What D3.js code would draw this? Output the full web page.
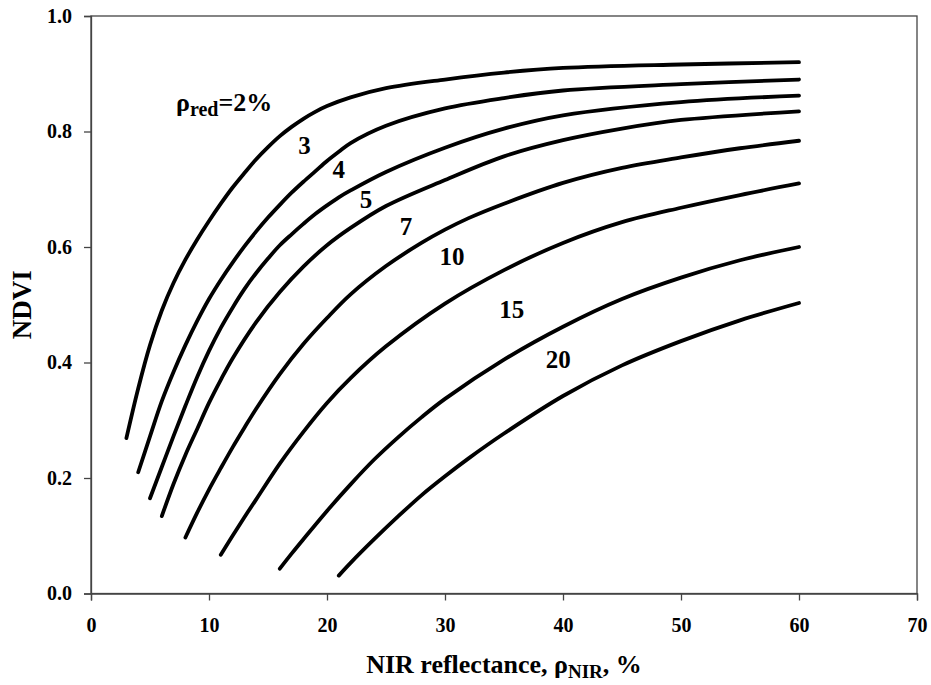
<!DOCTYPE html>
<html>
<head>
<meta charset="utf-8">
<script src="https://cdn.jsdelivr.net/npm/d3@7/dist/d3.min.js"></script>
<style>
  html, body { margin: 0; padding: 0; background: #fff; }
  svg text { font-family: "Liberation Serif", Tinos, "Nimbus Roman", "Times New Roman", "DejaVu Serif", serif !important; font-weight: bold; fill: #000; }
</style>
</head>
<body>
<svg id="chart" width="931" height="685"></svg>
<script>
// ---- data ----
const xTicks = [0, 10, 20, 30, 40, 50, 60, 70];
const yTicks = [0.0, 0.2, 0.4, 0.6, 0.8, 1.0];

// [NIR reflectance %, NDVI] pairs, one array per red reflectance
const red2 = [[3,0.269],[4,0.355],[5,0.43],[6,0.49],[7,0.538],[8,0.578],[9,0.613],[10,0.645],[11,0.675],[12,0.703],[13,0.728],[14,0.752],[15,0.773],[16,0.792],[17,0.808],[18,0.822],[19,0.834],[20,0.844],[22,0.859],[25,0.875],[30,0.89],[35,0.902],[40,0.91],[50,0.916],[60,0.92]];
const red3 = [[4,0.21],[5,0.272],[6,0.333],[7,0.384],[8,0.43],[9,0.472],[10,0.51],[11,0.543],[12,0.573],[13,0.601],[14,0.627],[15,0.651],[16,0.673],[17,0.694],[18,0.713],[19,0.731],[20,0.749],[21,0.765],[22,0.78],[25,0.81],[30,0.84],[35,0.858],[40,0.871],[50,0.882],[60,0.89]];
const red4 = [[5,0.165],[6,0.219],[7,0.273],[8,0.325],[9,0.375],[10,0.42],[11,0.46],[12,0.495],[13,0.527],[14,0.555],[15,0.58],[16,0.603],[17,0.622],[18,0.64],[19,0.657],[20,0.672],[21,0.686],[22,0.698],[25,0.73],[30,0.772],[35,0.805],[40,0.828],[50,0.851],[60,0.862]];
const red5 = [[6,0.134],[7,0.19],[8,0.24],[9,0.285],[10,0.33],[11,0.37],[12,0.407],[14,0.47],[16,0.522],[18,0.566],[20,0.603],[22,0.633],[25,0.671],[30,0.716],[35,0.757],[40,0.785],[45,0.805],[50,0.82],[60,0.835]];
const red7 = [[8,0.097],[9,0.14],[10,0.18],[11,0.217],[12,0.253],[13,0.287],[14,0.32],[16,0.38],[18,0.432],[20,0.477],[22,0.518],[25,0.567],[28,0.607],[30,0.63],[32,0.65],[35,0.675],[40,0.711],[45,0.737],[50,0.755],[55,0.771],[60,0.784]];
const red10 = [[11,0.067],[12,0.1],[13,0.132],[14,0.163],[16,0.225],[18,0.28],[20,0.33],[22,0.373],[25,0.428],[30,0.502],[35,0.56],[40,0.607],[45,0.643],[50,0.668],[55,0.69],[60,0.71]];
const red15 = [[16,0.043],[17,0.069],[18,0.094],[20,0.143],[22,0.189],[24,0.232],[26,0.27],[28,0.305],[30,0.337],[35,0.405],[40,0.462],[45,0.51],[50,0.547],[55,0.577],[60,0.6]];
const red20 = [[21,0.031],[22,0.053],[24,0.094],[26,0.133],[28,0.17],[30,0.203],[32,0.234],[35,0.277],[40,0.342],[45,0.395],[50,0.437],[55,0.473],[60,0.503]];

const seriesList = [red2, red3, red4, red5, red7, red10, red15, red20];
const curveLabels = ["3", "4", "5", "7", "10", "15", "20"];
const labelNIR = [18.1, 21.0, 23.3, 26.7, 30.6, 35.65, 39.6];
const labelNDVI = [0.777, 0.735, 0.683, 0.636, 0.584, 0.492, 0.405];

// ---- layout ----
const svg = d3.select("#chart");
const mLeft = 91, mTop = 16, mRight = 917, mBottom = 593.5;

const x = d3.scaleLinear().domain([0, 70]).range([mLeft, mRight]);
const y = d3.scaleLinear().domain([0, 1]).range([mBottom, mTop]);

// frame
svg.append("rect")
  .attr("x", mLeft).attr("y", mTop)
  .attr("width", mRight - mLeft).attr("height", mBottom - mTop)
  .attr("fill", "none").attr("stroke", "#444").attr("stroke-width", 1.3);

// x axis
const xAxis = svg.append("g").attr("transform", `translate(0,${mBottom})`)
  .call(d3.axisBottom(x).tickValues(xTicks).tickSize(7).tickPadding(17).tickFormat(d3.format("d")));
xAxis.attr("font-family", null);
xAxis.select(".domain").attr("stroke", "#444").attr("stroke-width", 1.3);
xAxis.selectAll(".tick line").attr("stroke", "#444").attr("stroke-width", 1.3);
xAxis.selectAll(".tick text").attr("font-size", 20);

// y axis
const yAxis = svg.append("g").attr("transform", `translate(${mLeft},0)`)
  .call(d3.axisLeft(y).tickValues(yTicks).tickSize(7).tickPadding(12).tickFormat(d3.format(".1f")));
yAxis.attr("font-family", null);
yAxis.select(".domain").attr("stroke", "#444").attr("stroke-width", 1.3);
yAxis.selectAll(".tick line").attr("stroke", "#444").attr("stroke-width", 1.3);
yAxis.selectAll(".tick text").attr("font-size", 20);

// curves
const line = d3.line().x(d => x(d[0])).y(d => y(d[1])).curve(d3.curveCatmullRom.alpha(0.5));
svg.append("g").selectAll("path").data(seriesList).join("path")
  .attr("d", line)
  .attr("fill", "none").attr("stroke", "#000").attr("stroke-width", 3.8)
  .attr("stroke-linecap", "round").attr("stroke-linejoin", "round");

// curve labels
svg.append("g").selectAll("text").data(curveLabels).join("text")
  .attr("x", (d, i) => x(labelNIR[i]))
  .attr("y", (d, i) => y(labelNDVI[i]))
  .attr("dy", "0.35em")
  .attr("text-anchor", "middle")
  .attr("font-size", 25)
  .text(d => d);

// rho_red = 2% label
const rl = svg.append("text").attr("x", x(7.2)).attr("y", y(0.835)).attr("font-size", 26);
rl.append("tspan").text("ρ");
rl.append("tspan").attr("font-size", 20).attr("dy", 5).text("red");
rl.append("tspan").attr("dy", -5).text("=2%");

// axis titles
const xt = svg.append("text").attr("x", (mLeft + mRight) / 2).attr("y", 673)
  .attr("text-anchor", "middle").attr("font-size", 26);
xt.append("tspan").text("NIR reflectance, ρ");
xt.append("tspan").attr("font-size", 19).attr("dy", 5).text("NIR");
xt.append("tspan").attr("dy", -5).text(", %");

svg.append("text")
  .attr("transform", `translate(31,${(mTop + mBottom) / 2}) rotate(-90)`)
  .attr("text-anchor", "middle").attr("font-size", 27)
  .text("NDVI");
</script>
</body>
</html>
